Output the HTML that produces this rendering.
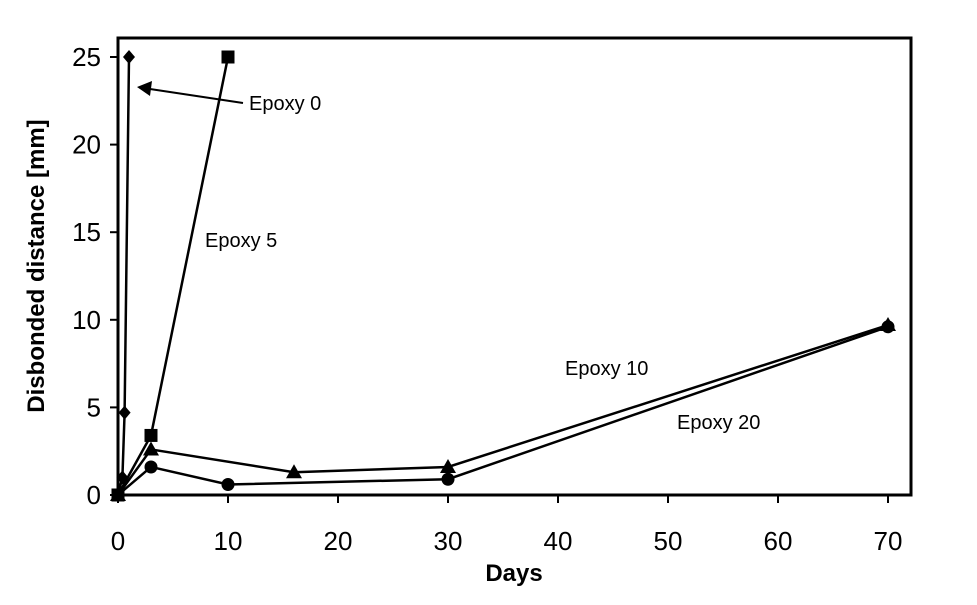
<!DOCTYPE html>
<html><head><meta charset="utf-8"><style>
body{margin:0;background:#fff;}
text{font-family:"Liberation Sans",Arial,sans-serif;}
</style></head><body>
<svg width="977" height="600" viewBox="0 0 977 600" xmlns="http://www.w3.org/2000/svg">
<rect x="0" y="0" width="977" height="600" fill="#fff"/>
<g id="plot"></g>
<text x="514" y="581" font-size="24" font-weight="bold" text-anchor="middle">Days</text>
<text transform="translate(44,266) rotate(-90)" font-size="24" font-weight="bold" text-anchor="middle">Disbonded distance [mm]</text>
<text x="249" y="110" font-size="20">Epoxy 0</text>
<text x="205" y="247" font-size="20">Epoxy 5</text>
<text x="565" y="375" font-size="20">Epoxy 10</text>
<text x="677" y="429" font-size="20">Epoxy 20</text>
<line x1="243" y1="103" x2="150" y2="89" stroke="#000" stroke-width="2"/>
<polygon points="137,87 152,81 150,96" fill="#000"/>
</svg>
<script>
const xTicks=[0,10,20,30,40,50,60,70];
const yTicks=[0,5,10,15,20,25];
const e0x=[0,0.4,0.6,1], e0y=[0,1,4.7,25];
const e5x=[0,3,10], e5y=[0,3.4,25];
const e10x=[0,3,16,30,70], e10y=[0,2.6,1.3,1.6,9.7];
const e20x=[0,3,10,30,70], e20y=[0,1.6,0.6,0.9,9.6];
const X=v=>118+v*11, Y=v=>495-v*17.52;
const NS="http://www.w3.org/2000/svg", g=document.getElementById('plot');
function mk(t,a){const e=document.createElementNS(NS,t);for(const k in a)e.setAttribute(k,a[k]);g.appendChild(e);return e;}
let fr=mk('rect',{x:118,y:38,width:793,height:457,fill:'none',stroke:'#000','stroke-width':3});


xTicks.forEach(t=>{let l=mk('line',{x1:X(t),x2:X(t),y1:495,y2:503,stroke:'#000','stroke-width':2});


let s=mk('text',{x:X(t),y:550,'font-size':26,'text-anchor':'middle'});s.textContent=t;

});
yTicks.forEach(t=>{let l=mk('line',{x1:110,x2:118,y1:Y(t),y2:Y(t),stroke:'#000','stroke-width':2});


let s=mk('text',{x:101,y:Y(t)+9,'font-size':26,'text-anchor':'end'});s.textContent=t;

});
function series(xs,ys,name,shape){
 let p=mk('polyline',{points:xs.map((x,i)=>X(x)+','+Y(ys[i])).join(' '),fill:'none',stroke:'#000','stroke-width':2.5});
 
 
 xs.forEach((x,i)=>{const cx=X(x),cy=Y(ys[i]);let m;
  if(shape==='d')m=mk('polygon',{points:`${cx},${cy-7} ${cx+6},${cy} ${cx},${cy+7} ${cx-6},${cy}`});
  else if(shape==='s')m=mk('rect',{x:cx-6.5,y:cy-6.5,width:13,height:13});
  else if(shape==='t')m=mk('polygon',{points:`${cx},${cy-8} ${cx+8},${cy+6} ${cx-8},${cy+6}`});
  else m=mk('circle',{cx:cx,cy:cy,r:6.5});
  m.setAttribute('fill','#000');
  
  });
}
series(e20x,e20y,'epoxy-20','c');
series(e10x,e10y,'epoxy-10','t');
series(e5x,e5y,'epoxy-5','s');
series(e0x,e0y,'epoxy-0','d');
</script>
</body></html>
